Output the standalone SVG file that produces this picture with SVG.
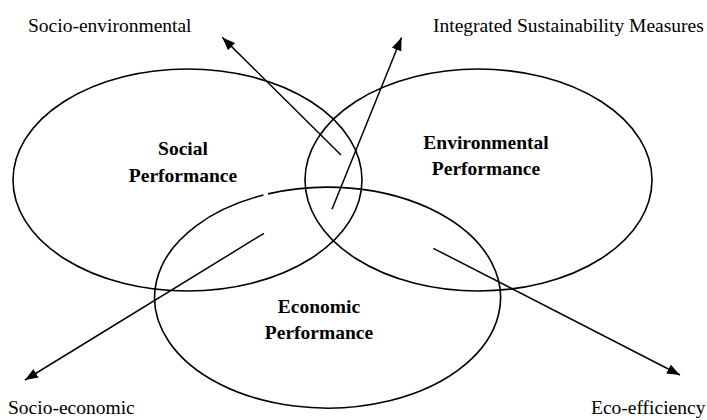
<svg xmlns="http://www.w3.org/2000/svg" width="707" height="420" viewBox="0 0 707 420">
<style>
.shape{fill:none;stroke:#000;stroke-width:1.6}
.conn{fill:none;stroke:#000;stroke-width:1.5}
.title{font-family:"Liberation Serif","Times New Roman",serif;font-size:19.5px;font-weight:bold;fill:#000;text-anchor:middle}
.lbl{font-family:"Liberation Serif","Times New Roman",serif;font-size:19.5px;fill:#000}
</style>
<defs>
<marker id="ah" markerUnits="userSpaceOnUse" markerWidth="14" markerHeight="12" viewBox="0 0 14 12" refX="13" refY="5" orient="auto">
<path d="M0,0 L13,5 L0,10 z" fill="#000"/>
</marker>
</defs>
<rect width="707" height="420" fill="#fff"/>
<g id="social">
<ellipse class="shape" cx="187.5" cy="180" rx="174.5" ry="111"/>
<text class="title" x="183" y="155">Social</text>
<text class="title" x="183" y="181.5">Performance</text>
</g>
<g id="environmental">
<ellipse class="shape" cx="478.5" cy="180" rx="173.5" ry="111"/>
<text class="title" x="486" y="149">Environmental</text>
<text class="title" x="486" y="175">Performance</text>
</g>
<g id="economic">
<path class="shape" d="M268,193.9 A173,110.5 0 1 1 263.5,195"/>
<text class="title" x="319" y="313">Economic</text>
<text class="title" x="319" y="339">Performance</text>
</g>
<g id="connectors">
<line class="conn" x1="341" y1="155" x2="222.3" y2="37.4" marker-end="url(#ah)"/>
<line class="conn" x1="332" y1="209.3" x2="401.5" y2="37.5" marker-end="url(#ah)"/>
<line class="conn" x1="264" y1="233.3" x2="25" y2="380" marker-end="url(#ah)"/>
<line class="conn" x1="433.3" y1="248.3" x2="680" y2="375" marker-end="url(#ah)"/>
</g>
<g id="labels">
<text class="lbl" x="28" y="31.5">Socio-environmental</text>
<text class="lbl" x="433" y="31.5">Integrated Sustainability Measures</text>
<text class="lbl" x="8" y="413.5">Socio-economic</text>
<text class="lbl" x="591" y="413.5">Eco-efficiency</text>
</g>
</svg>
